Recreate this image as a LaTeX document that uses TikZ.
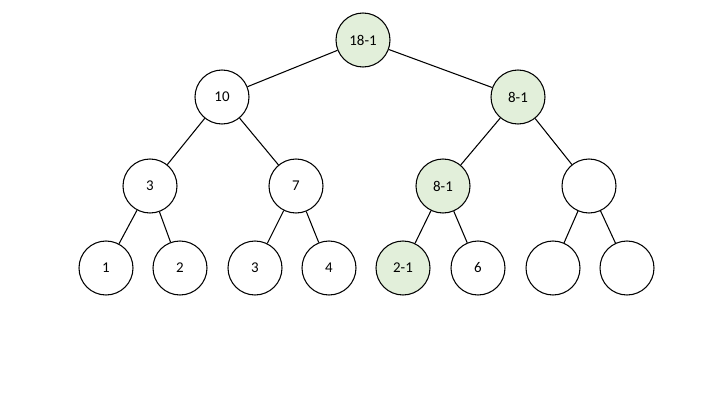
\documentclass[tikz,border=0pt]{standalone}
\usepackage{fontspec}
\setmainfont{Carlito}
\usepackage{tikz}
\usetikzlibrary{positioning}
\definecolor{hlgreen}{HTML}{E2EFDA}

\begin{document}
\begin{tikzpicture}[
    vertex/.style={draw=black, line width=0.6pt, circle, fill=white, minimum size=1.08cm, inner sep=0pt, font=\fontsize{8.5}{10}\selectfont},
    marked/.style={vertex, fill=hlgreen},
    edge/.style={line width=0.6pt}
]
  \useasboundingbox (0,0) rectangle (14.4,8.1);
  % Nodes
  \node (root) [marked] at (7.26,7.30) {18-1};

  \node (l) [vertex] at (4.44,6.16) {10};
  \node (r) [marked] at (10.36,6.16) {8-1};

  \node (ll) [vertex] at (3.00,4.38) {3};
  \node (lr) [vertex] at (5.92,4.38) {7};
  \node (rl) [marked] at (8.86,4.38) {8-1};
  \node (rr) [vertex] at (11.78,4.38) {};

  \node (lll) [vertex] at (2.12,2.74) {1};
  \node (llr) [vertex] at (3.60,2.74) {2};
  \node (lrl) [vertex] at (5.10,2.74) {3};
  \node (lrr) [vertex] at (6.58,2.74) {4};
  \node (rll) [marked] at (8.06,2.74) {2-1};
  \node (rlr) [vertex] at (9.56,2.74) {6};
  \node (rrl) [vertex] at (11.06,2.74) {};
  \node (rrr) [vertex] at (12.54,2.74) {};

  % Edges
  \draw [edge] (root) -- (l);
  \draw [edge] (root) -- (r);
  \draw [edge] (l) -- (ll);
  \draw [edge] (l) -- (lr);
  \draw [edge] (r) -- (rl);
  \draw [edge] (r) -- (rr);
  \draw [edge] (ll) -- (lll);
  \draw [edge] (ll) -- (llr);
  \draw [edge] (lr) -- (lrl);
  \draw [edge] (lr) -- (lrr);
  \draw [edge] (rl) -- (rll);
  \draw [edge] (rl) -- (rlr);
  \draw [edge] (rr) -- (rrl);
  \draw [edge] (rr) -- (rrr);

\end{tikzpicture}
\end{document}
